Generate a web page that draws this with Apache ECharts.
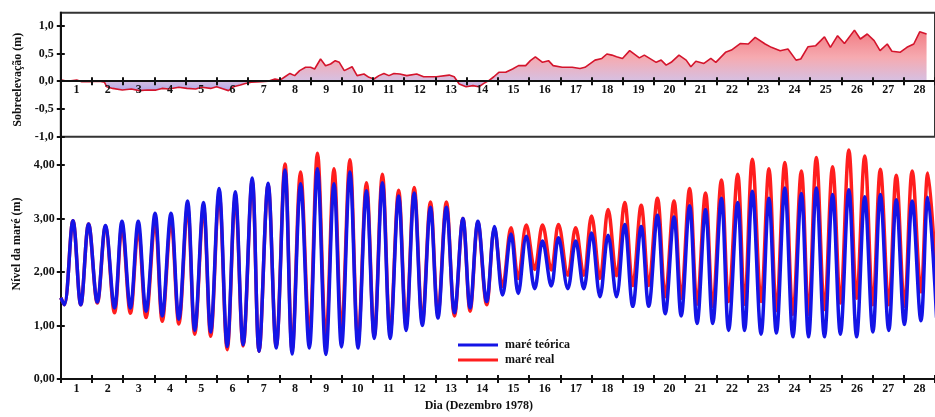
<!DOCTYPE html>
<html>
<head>
<meta charset="utf-8">
<script src="https://cdn.jsdelivr.net/npm/echarts@6/dist/echarts.min.js"></script>
<style>
html,body{margin:0;padding:0;background:#fff;}
#chart{width:935px;height:417px;}
</style>
</head>
<body>
<div id="chart"></div>
<script>
// Day labels (Dezembro 1978)
const diasRotulos = ['1','2','3','4','5','6','7','8','9','10','11','12','13','14','15','16','17','18','19','20','21','22','23','24','25','26','27','28'];

// Times (days since 1 Dec 00h) of the tidal lows/highs
const diaExtremos = [
  0,
  0.11, 0.39, 0.64, 0.89, 1.17, 1.43, 1.72, 1.96, 2.23, 2.48,
  2.73, 3.02, 3.25, 3.53, 3.78, 4.06, 4.29, 4.57, 4.80, 5.07,
  5.33, 5.59, 5.84, 6.13, 6.35, 6.64, 6.90, 7.18, 7.41, 7.68,
  7.96, 8.22, 8.49, 8.75, 8.99, 9.26, 9.52, 9.79, 10.04, 10.30,
  10.55, 10.82, 11.06, 11.32, 11.58, 11.84, 12.08, 12.35, 12.61, 12.88,
  13.11, 13.36, 13.64, 13.89, 14.15, 14.42, 14.65, 14.91, 15.18, 15.43,
  15.71, 15.94, 16.24, 16.49, 16.75, 17.00, 17.27, 17.53, 17.80, 18.06,
  18.32, 18.59, 18.83, 19.11, 19.36, 19.64, 19.87, 20.14, 20.38, 20.65,
  20.88, 21.16, 21.39, 21.68, 21.90, 22.15, 22.43, 22.68, 22.92, 23.19,
  23.45, 23.72, 23.95, 24.20, 24.46, 24.72, 24.97, 25.24, 25.49, 25.75,
  26.01, 26.25, 26.52, 26.76, 27.02, 27.27, 27.55, 27.77,
  28.05
];

// maré teórica (m) at those times
const mareTeorica = [
  1.52,
  1.39, 2.96, 1.39, 2.90, 1.44, 2.87, 1.33, 2.95, 1.33, 2.95,
  1.27, 3.10, 1.18, 3.10, 1.12, 3.33, 0.91, 3.30, 0.88, 3.56,
  0.61, 3.50, 0.64, 3.76, 0.52, 3.66, 0.58, 3.91, 0.47, 3.65,
  0.58, 3.93, 0.46, 3.65, 0.60, 3.87, 0.58, 3.52, 0.76, 3.67,
  0.76, 3.42, 0.91, 3.48, 1.00, 3.21, 1.14, 3.21, 1.24, 3.00,
  1.33, 2.95, 1.45, 2.85, 1.57, 2.71, 1.60, 2.67, 1.69, 2.58,
  1.74, 2.64, 1.69, 2.58, 1.69, 2.73, 1.54, 2.69, 1.54, 2.89,
  1.36, 2.85, 1.36, 3.06, 1.22, 3.03, 1.18, 3.24, 1.04, 3.17,
  1.04, 3.38, 0.91, 3.30, 0.91, 3.51, 0.84, 3.38, 0.86, 3.57,
  0.79, 3.47, 0.79, 3.57, 0.79, 3.45, 0.84, 3.54, 0.79, 3.41,
  0.88, 3.45, 0.91, 3.35, 1.02, 3.33, 1.09, 3.40,
  1.15
];

// maré real (m) at those times
const mareReal = [
  1.52,
  1.39, 2.96, 1.39, 2.90, 1.42, 2.85, 1.24, 2.85, 1.23, 2.80,
  1.15, 2.95, 1.08, 2.95, 1.03, 3.21, 0.84, 3.20, 0.80, 3.46,
  0.55, 3.40, 0.62, 3.71, 0.52, 3.64, 0.60, 4.02, 0.55, 3.87,
  0.83, 4.22, 0.76, 3.93, 0.90, 4.10, 0.70, 3.67, 0.80, 3.83,
  0.86, 3.53, 1.01, 3.58, 1.08, 3.31, 1.22, 3.31, 1.18, 3.00,
  1.27, 2.93, 1.39, 2.82, 1.73, 2.83, 1.88, 2.88, 2.05, 2.88,
  2.04, 2.89, 1.94, 2.83, 1.94, 3.05, 1.88, 3.17, 1.93, 3.30,
  1.75, 3.25, 1.75, 3.38, 1.54, 3.33, 1.51, 3.56, 1.40, 3.48,
  1.36, 3.72, 1.45, 3.83, 1.40, 4.11, 1.45, 3.93, 1.28, 4.05,
  1.21, 3.89, 1.21, 4.14, 1.30, 3.97, 1.42, 4.28, 1.51, 4.17,
  1.39, 3.92, 1.39, 3.81, 1.36, 3.89, 1.63, 3.85,
  1.65
];

// Sobreelevação (m): sample times and values
const diaSobre = [
  0.03, 0.20, 0.51, 0.67, 0.93, 1.24, 1.40, 1.47, 1.66, 1.97,
  2.26, 2.51, 2.77, 3.05, 3.24, 3.46, 3.78, 4.04, 4.32, 4.51,
  4.80, 4.99, 5.21, 5.37, 5.53, 5.75, 5.91, 6.10, 6.42, 6.64,
  6.86, 7.02, 7.18, 7.34, 7.49, 7.65, 7.84, 8.00, 8.13, 8.32,
  8.48, 8.64, 8.79, 8.92, 9.08, 9.33, 9.49, 9.71, 9.87, 10.03,
  10.19, 10.35, 10.51, 10.67, 10.86, 11.08, 11.40, 11.62, 12.03, 12.44,
  12.60, 12.76, 12.98, 13.20, 13.39, 13.55, 13.71, 13.87, 14.03, 14.25,
  14.47, 14.66, 14.89, 15.04, 15.20, 15.43, 15.62, 15.77, 16.06, 16.38,
  16.63, 16.79, 17.11, 17.33, 17.49, 17.65, 17.80, 17.99, 18.22, 18.53,
  18.69, 19.07, 19.23, 19.39, 19.55, 19.80, 20.03, 20.18, 20.34, 20.60,
  20.82, 20.98, 21.29, 21.48, 21.77, 22.02, 22.24, 22.56, 22.76, 23.04,
  23.29, 23.55, 23.70, 23.93, 24.18, 24.34, 24.46, 24.65, 24.88, 25.10,
  25.42, 25.61, 25.83, 26.05, 26.24, 26.47, 26.62, 26.88, 27.10, 27.32,
  27.51, 27.73
];
const sobreelevacao = [
  0.02, 0.00, 0.02, -0.01, -0.01, 0.00, -0.02, -0.10, -0.13, -0.16,
  -0.14, -0.17, -0.16, -0.16, -0.13, -0.14, -0.11, -0.13, -0.14, -0.11,
  -0.13, -0.10, -0.14, -0.17, -0.10, -0.07, -0.04, -0.02, -0.01, 0.00,
  0.04, 0.02, 0.08, 0.14, 0.10, 0.19, 0.25, 0.25, 0.22, 0.40,
  0.28, 0.31, 0.37, 0.34, 0.19, 0.26, 0.10, 0.13, 0.07, 0.04,
  0.10, 0.14, 0.10, 0.14, 0.13, 0.10, 0.13, 0.08, 0.08, 0.11,
  0.08, -0.05, -0.10, -0.08, -0.10, -0.04, 0.01, 0.08, 0.16, 0.16,
  0.22, 0.28, 0.28, 0.37, 0.44, 0.34, 0.37, 0.28, 0.25, 0.25,
  0.23, 0.25, 0.38, 0.41, 0.49, 0.47, 0.44, 0.41, 0.55, 0.42,
  0.47, 0.34, 0.38, 0.29, 0.34, 0.47, 0.38, 0.26, 0.36, 0.32,
  0.41, 0.34, 0.52, 0.56, 0.68, 0.67, 0.79, 0.67, 0.61, 0.55,
  0.58, 0.38, 0.40, 0.62, 0.64, 0.73, 0.80, 0.61, 0.82, 0.68,
  0.92, 0.76, 0.85, 0.73, 0.55, 0.67, 0.54, 0.52, 0.61, 0.67,
  0.89, 0.85
];

const FONT = "'Liberation Serif', 'DejaVu Serif', serif";
const labelStyle = { fontFamily: FONT, fontWeight: 'bold', fontSize: 12, color: '#111' };
const axisLineStyle = { color: '#111', width: 2 };

const pairs = (xs, ys) => xs.map((x, i) => [x, ys[i]]);

const GRID_LEFT = 60.8, GRID_W = 882.6;
const TOP_MIN = -1, TOP_MAX = 1.234, TOP_Y = 12.7, TOP_H = 124;
// helper grid whose bottom edge sits on the zero line of the surge panel
const ZERO_H = TOP_H * (TOP_MAX - 0) / (TOP_MAX - TOP_MIN);

const chart = echarts.init(document.getElementById('chart'), null, { renderer: 'canvas' });

function dayAxis(gridIndex, opts) {
  return Object.assign({
    type: 'category', gridIndex: gridIndex, data: diasRotulos, boundaryGap: true, position: 'bottom', z: 6,
    axisLine: { show: true, onZero: false, lineStyle: axisLineStyle },
    axisTick: { show: true, inside: false, length: 4, lineStyle: { color: '#111', width: 2 } },
    axisLabel: Object.assign({ show: true, margin: 4, interval: 0 }, labelStyle),
    splitLine: { show: false }
  }, opts);
}

const fmt1 = v => (Math.abs(v * 2 - Math.round(v * 2)) < 1e-6) ? v.toFixed(1).replace('.', ',') : '';
const fmt2 = v => (Math.abs(v - Math.round(v)) < 1e-6) ? v.toFixed(2).replace('.', ',') : '';

const option = {
  animation: false,
  backgroundColor: '#fff',
  grid: [
    { left: GRID_LEFT, top: TOP_Y, width: GRID_W, height: TOP_H, show: true, borderColor: '#333', borderWidth: 2, backgroundColor: 'transparent' },
    { left: GRID_LEFT, top: 136.7, width: GRID_W, height: 251.6 },
    { left: GRID_LEFT, top: TOP_Y, width: GRID_W, height: ZERO_H }
  ],
  xAxis: [
    { type: 'value', gridIndex: 0, min: 0, max: 28, show: false, position: 'bottom', axisLine: { onZero: false } },
    dayAxis(2, { axisLabel: Object.assign({ show: true, margin: 3, interval: 0 }, labelStyle) }),
    dayAxis(2, { axisTick: { show: true, inside: true, length: 4, lineStyle: { color: '#111', width: 2 } },
                 axisLabel: { show: false } }),
    { type: 'value', gridIndex: 1, min: 0, max: 28, show: false, position: 'bottom', axisLine: { onZero: false } },
    dayAxis(1, { name: 'Dia (Dezembro 1978)', nameLocation: 'middle', nameGap: 15,
                 nameTextStyle: Object.assign({ padding: [0, 38, 0, 0] }, labelStyle) }),
    dayAxis(1, { axisTick: { show: true, inside: true, length: 4, lineStyle: { color: '#111', width: 2 } },
                 axisLabel: { show: false } })
  ],
  yAxis: [
    { type: 'value', gridIndex: 0, min: TOP_MIN, max: TOP_MAX, interval: 0.5, position: 'left',
      axisLine: { show: true, onZero: false, lineStyle: axisLineStyle },
      axisTick: { show: true, length: 4, lineStyle: { color: '#111', width: 2 }, customValues: [-1, -0.5, 0, 0.5, 1] },
      axisLabel: Object.assign({ margin: 7, formatter: fmt1, customValues: [-1, -0.5, 0, 0.5, 1] }, labelStyle),
      splitLine: { show: false },
      name: 'Sobreelevação (m)', nameLocation: 'middle', nameGap: 36,
      nameTextStyle: Object.assign({ padding: [0, 10, 0, 0] }, labelStyle) },
    { type: 'value', gridIndex: 0, min: TOP_MIN, max: TOP_MAX, interval: 0.5, position: 'left',
      axisLine: { show: true, onZero: false, lineStyle: axisLineStyle },
      axisTick: { show: true, inside: true, length: 4, lineStyle: { color: '#111', width: 2 }, customValues: [-1, -0.5, 0, 0.5, 1] },
      axisLabel: { show: false }, splitLine: { show: false } },
    { type: 'value', gridIndex: 1, min: 0, max: 4.53, interval: 1, position: 'left',
      axisLine: { show: true, onZero: false, lineStyle: axisLineStyle },
      axisTick: { show: true, length: 4, lineStyle: { color: '#111', width: 2 }, customValues: [0, 1, 2, 3, 4] },
      axisLabel: Object.assign({ margin: 6, formatter: fmt2, customValues: [0, 1, 2, 3, 4] }, labelStyle),
      splitLine: { show: false },
      name: 'Nível da maré (m)', nameLocation: 'middle', nameGap: 36,
      nameTextStyle: Object.assign({ padding: [0, 0, 0, 28] }, labelStyle) },
    { type: 'value', gridIndex: 1, min: 0, max: 4.53, interval: 1, position: 'left',
      axisLine: { show: true, onZero: false, lineStyle: axisLineStyle },
      axisTick: { show: true, inside: true, length: 4, lineStyle: { color: '#111', width: 2 }, customValues: [0, 1, 2, 3, 4] },
      axisLabel: { show: false }, splitLine: { show: false } },
    { type: 'value', gridIndex: 2, min: 0, max: TOP_MAX, show: false, axisLine: { onZero: false } }
  ],
  legend: {
    data: ['maré teórica', 'maré real'],
    orient: 'vertical', left: 453, top: 334,
    icon: 'rect', itemWidth: 40, itemHeight: 3, itemGap: 3,
    textStyle: Object.assign({ padding: [0, 0, 0, 2] }, labelStyle)
  },
  series: [
    { name: 'Sobreelevação', type: 'line', xAxisIndex: 0, yAxisIndex: 0,
      data: pairs(diaSobre, sobreelevacao), showSymbol: false, symbol: 'none',
      lineStyle: { color: '#d4142c', width: 1.6 },
      areaStyle: { origin: 0, opacity: 1, color: new echarts.graphic.LinearGradient(0, 0, 0, 1, [
        { offset: 0, color: '#f27b82' },
        { offset: 0.45, color: '#f6aab0' },
        { offset: 0.84, color: '#d6c0e2' },
        { offset: 1, color: '#b0a6e8' }
      ]) },
      z: 3 },
    { name: 'maré real', type: 'line', xAxisIndex: 3, yAxisIndex: 2,
      data: pairs(diaExtremos, mareReal), showSymbol: false, symbol: 'none', smooth: 0.36,
      lineStyle: { color: '#ff1e1e', width: 3.5 }, itemStyle: { color: '#ff1e1e' }, z: 3 },
    { name: 'maré teórica', type: 'line', xAxisIndex: 3, yAxisIndex: 2,
      data: pairs(diaExtremos, mareTeorica), showSymbol: false, symbol: 'none', smooth: 0.36,
      lineStyle: { color: '#1414e6', width: 3.5 }, itemStyle: { color: '#1414e6' }, z: 4 }
  ]
};
chart.setOption(option);
</script>
</body>
</html>
